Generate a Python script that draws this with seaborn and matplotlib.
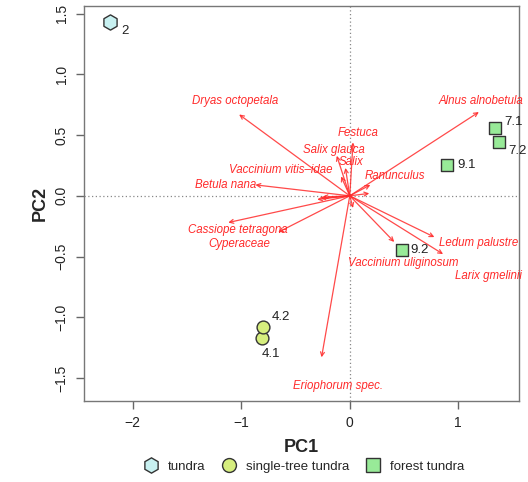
#!/usr/bin/env python3

from matplotlib import pyplot as plt
from matplotlib.lines import Line2D
import pandas as pd
import seaborn as sns

# site scores
site_labels = ["2", "4.1", "4.2", "7.1", "7.2", "9.1", "9.2"]
site_pc1 = [-2.21, -0.81, -0.80, 1.34, 1.38, 0.90, 0.48]
site_pc2 = [1.43, -1.17, -1.08, 0.56, 0.44, 0.25, -0.45]
site_type = ["tundra", "single-tree tundra", "single-tree tundra",
             "forest tundra", "forest tundra", "forest tundra", "forest tundra"]

# species loadings (arrow tips) and label positions
species = ["Dryas octopetala", "Alnus alnobetula", "Festuca", "Salix glauca",
           "Salix", "Vaccinium vitis\u2013idae", "Ranunculus", "Betula nana",
           "Cassiope tetragona", "Cyperaceae", "Ledum palustre",
           "Larix gmelinii", "Vaccinium uliginosum", "Eriophorum spec."]
sp_pc1 = [-1.02, 1.19, 0.03, -0.12, -0.04, -0.08, 0.19, -0.87,
          -1.12, -0.66, 0.78, 0.86, 0.41, -0.26]
sp_pc2 = [0.67, 0.69, 0.44, 0.33, 0.23, 0.16, 0.09, 0.09,
          -0.22, -0.30, -0.34, -0.48, -0.38, -1.33]
lab_pc1 = [-1.06, 1.21, 0.08, -0.15, 0.01, -0.64, 0.42, -1.14,
           -1.03, -1.02, 1.19, 1.28, 0.49, -0.11]
lab_pc2 = [0.78, 0.78, 0.52, 0.38, 0.28, 0.21, 0.16, 0.09,
           -0.28, -0.40, -0.39, -0.66, -0.55, -1.57]

# short unlabelled loadings
minor_pc1 = [-0.27, -0.30, -0.25, 0.18, 0.03]
minor_pc2 = [-0.02, -0.03, -0.01, 0.02, -0.10]

groups = ["tundra", "single-tree tundra", "forest tundra"]
group_markers = {"tundra": "h", "single-tree tundra": "o", "forest tundra": "s"}
group_colors = {"tundra": "#c8f1f1", "single-tree tundra": "#d6ee7e",
                "forest tundra": "#98ea98"}
group_sizes = {"tundra": 120, "single-tree tundra": 85, "forest tundra": 75}


def main():
    df = pd.DataFrame({"PC1": site_pc1, "PC2": site_pc2,
                       "type": site_type, "label": site_labels})

    sns.set_theme(style="white")
    plt.rcParams["font.family"] = ["Liberation Sans", "DejaVu Sans"]

    fig = plt.figure(figsize=(5.28, 4.82), dpi=100)
    ax = fig.add_axes([0.159, 0.168, 0.824, 0.820])

    ax.axhline(0, color="#888888", ls=(0, (1, 2)), lw=0.9, zorder=1)
    ax.axvline(0, color="#888888", ls=(0, (1, 2)), lw=0.9, zorder=1)

    red = "#ff2a2a"
    for x, y in zip(sp_pc1 + minor_pc1, sp_pc2 + minor_pc2):
        ax.annotate("", xy=(x, y), xytext=(0, 0),
                    arrowprops=dict(arrowstyle="->", color=red, lw=0.9,
                                    alpha=0.85, shrinkA=0, shrinkB=0,
                                    mutation_scale=7),
                    zorder=2)
    for name, x, y in zip(species, lab_pc1, lab_pc2):
        ax.text(x, y, name, color=red, fontsize=8.3, style="italic",
                ha="center", va="center", zorder=3)

    for g in groups:
        sub = df[df["type"] == g]
        sns.scatterplot(data=sub, x="PC1", y="PC2", marker=group_markers[g],
                        color=group_colors[g], edgecolor="#333333",
                        linewidth=1.0, s=group_sizes[g], ax=ax, zorder=4,
                        legend=False)

    offsets = {"2": (0.1, -0.07), "4.1": (0.0, -0.13), "4.2": (0.08, 0.08),
               "7.1": (0.08, 0.05), "7.2": (0.08, -0.07), "9.1": (0.09, 0.0),
               "9.2": (0.08, 0.0)}
    for _, r in df.iterrows():
        dx, dy = offsets[r["label"]]
        ax.text(r["PC1"] + dx, r["PC2"] + dy, r["label"], fontsize=9.5,
                color="#222222", ha="left", va="center", zorder=5)

    ax.set_xlim(-2.45, 1.56)
    ax.set_ylim(-1.69, 1.565)
    ax.set_xticks([-2, -1, 0, 1])
    ax.set_yticks([-1.5, -1.0, -0.5, 0.0, 0.5, 1.0, 1.5])
    ax.set_xticklabels(["\u22122", "\u22121", "0", "1"])
    ax.set_yticklabels(["\u22121.5", "\u22121.0", "\u22120.5", "0.0",
                        "0.5", "1.0", "1.5"])
    ax.tick_params(axis="both", direction="out", length=6, width=1,
                   color="#666666", labelsize=10, labelcolor="#222222",
                   bottom=True, left=True, pad=5)
    ax.tick_params(axis="y", labelrotation=90)
    for t in ax.get_yticklabels():
        t.set_va("center")
    for s in ax.spines.values():
        s.set_color("#777777")
        s.set_linewidth(1.0)

    ax.set_xlabel("PC1", fontsize=13, fontweight="bold", labelpad=6)
    ax.set_ylabel("PC2", fontsize=13, fontweight="bold", labelpad=4)

    handles = [Line2D([], [], ls="", marker=group_markers[g],
                      markerfacecolor=group_colors[g],
                      markeredgecolor="#333333",
                      markersize=11 if g == "tundra" else 10)
               for g in groups]
    fig.legend(handles, groups, loc="lower center", ncol=3,
               bbox_to_anchor=(0.57, -0.005), frameon=False, fontsize=9.5,
               handletextpad=0.3, columnspacing=0.8)

    fig.savefig("out.png", dpi=100)


if __name__ == "__main__":
    main()
